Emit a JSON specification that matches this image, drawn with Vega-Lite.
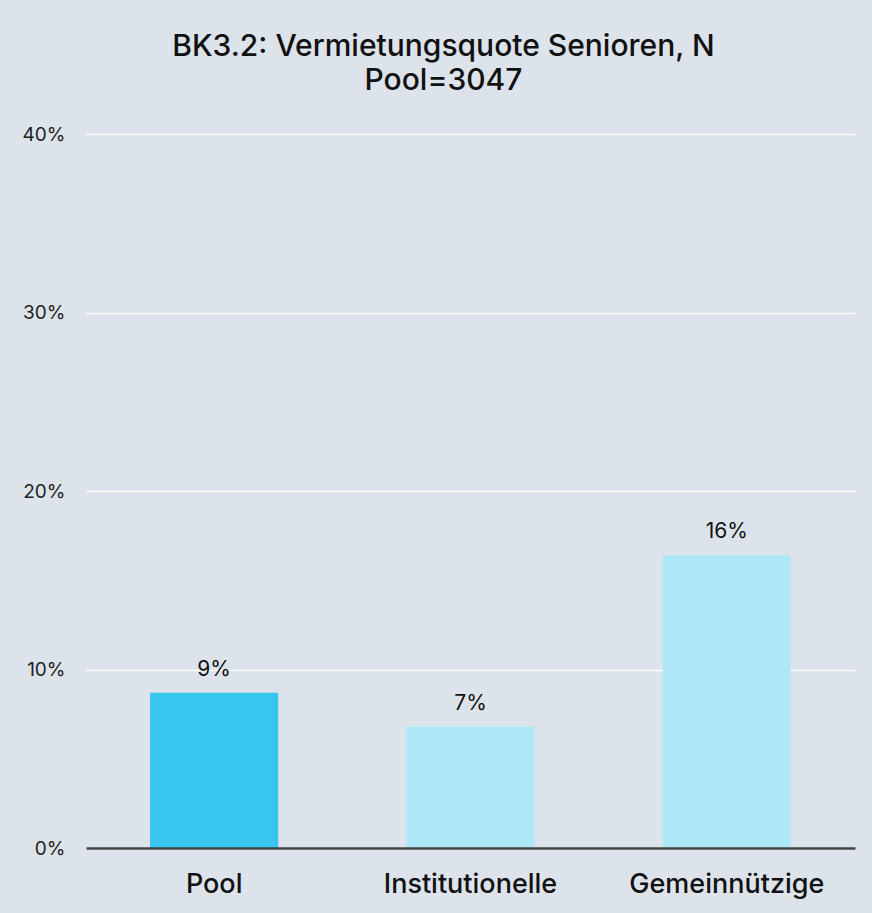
{
  "$schema": "https://vega.github.io/schema/vega-lite/v6.json",
  "autosize": {"type": "none"},
  "width": 769,
  "height": 714,
  "padding": {"left": 86, "top": 134, "right": 17, "bottom": 65},
  "background": "#dce3ea",
  "config": {
    "font": "Inter",
    "view": {"stroke": null},
    "axis": {"labelFont": "Inter", "titleFont": "Inter"}
  },
  "title": {
    "text": ["BK3.2: Vermietungsquote Senioren, N", "Pool=3047"],
    "fontSize": 30,
    "fontWeight": 500,
    "color": "#111111",
    "lineHeight": 34,
    "anchor": "middle",
    "dx": -27,
    "offset": 29
  },
  "data": {
    "values": [
      {"gruppe": "Pool", "quote": 0.087, "typ": "pool"},
      {"gruppe": "Institutionelle", "quote": 0.068, "typ": "other"},
      {"gruppe": "Gemeinnützige", "quote": 0.164, "typ": "other"}
    ]
  },
  "encoding": {
    "x": {
      "field": "gruppe",
      "type": "nominal",
      "sort": null,
      "scale": {"paddingInner": 0.5, "paddingOuter": 0.25},
      "axis": {
        "title": null,
        "labelAngle": 0,
        "labelFontSize": 27,
        "labelFontWeight": 500,
        "labelColor": "#111111",
        "labelPadding": 23,
        "labelLimit": 400,
        "ticks": false,
        "domainColor": "#444444",
        "domainWidth": 2.5,
        "zindex": 1
      }
    },
    "y": {
      "field": "quote",
      "type": "quantitative",
      "scale": {"domain": [0, 0.4]},
      "axis": {
        "title": null,
        "format": ".0%",
        "values": [0, 0.1, 0.2, 0.3, 0.4],
        "labelFontSize": 19,
        "labelColor": "#222222",
        "labelPadding": 21,
        "ticks": false,
        "domain": false,
        "gridColor": "#ffffff",
        "gridWidth": 1.5
      }
    }
  },
  "layer": [
    {
      "mark": {"type": "bar"},
      "encoding": {
        "color": {
          "field": "typ",
          "type": "nominal",
          "scale": {"domain": ["pool", "other"], "range": ["#38c5f0", "#aee7f7"]},
          "legend": null
        }
      }
    },
    {
      "mark": {"type": "text", "baseline": "bottom", "dy": -13, "fontSize": 21, "color": "#111111"},
      "encoding": {
        "text": {"field": "quote", "type": "quantitative", "format": ".0%"}
      }
    }
  ]
}
